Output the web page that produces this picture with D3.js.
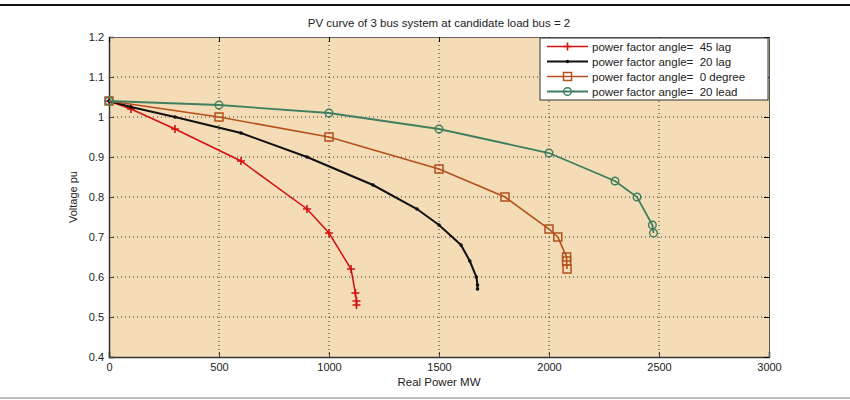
<!DOCTYPE html>
<html>
<head>
<meta charset="utf-8">
<script src="https://cdn.jsdelivr.net/npm/d3@7"></script>
<style>
  body { margin: 0; background: #fff; }
  text { font-family: "Liberation Sans", Arial, sans-serif; fill: #222; }
  .tick text { font-size: 11px; }
</style>
</head>
<body>
<div id="viz"></div>
<script>
const width = 850;
const height = 400;

// series: P (MW) and V (pu)
const lag45P = [0, 100, 300, 600, 900, 1000, 1100, 1120, 1125, 1125];
const lag45V = [1.04, 1.02, 0.97, 0.89, 0.77, 0.71, 0.62, 0.56, 0.54, 0.53];
const lag20P = [0, 100, 300, 600, 900, 1200, 1400, 1500, 1600, 1640, 1670, 1675, 1675];
const lag20V = [1.04, 1.025, 1.0, 0.96, 0.90, 0.83, 0.77, 0.73, 0.68, 0.64, 0.60, 0.58, 0.57];
const deg0P = [0, 500, 1000, 1500, 1800, 2000, 2040, 2080, 2080, 2082];
const deg0V = [1.04, 1.0, 0.95, 0.87, 0.80, 0.72, 0.70, 0.65, 0.64, 0.62];
const lead20P = [0, 500, 1000, 1500, 2000, 2300, 2400, 2470, 2475];
const lead20V = [1.04, 1.03, 1.01, 0.97, 0.91, 0.84, 0.80, 0.73, 0.71];

const seriesNames = ["power factor angle=  45 lag", "power factor angle=  20 lag",
                     "power factor angle=  0 degree", "power factor angle=  20 lead"];
const xTicks = [0, 500, 1000, 1500, 2000, 2500, 3000];
const yTicks = [0.4, 0.5, 0.6, 0.7, 0.8, 0.9, 1, 1.1, 1.2];

const series = [
    {name: seriesNames[0], P: lag45P, V: lag45V, color: "#d41010", w: 1.5, marker: "plus"},
    {name: seriesNames[1], P: lag20P, V: lag20V, color: "#111111", w: 2, marker: "dot"},
    {name: seriesNames[2], P: deg0P, V: deg0V, color: "#b4501c", w: 1.6, marker: "square"},
    {name: seriesNames[3], P: lead20P, V: lead20V, color: "#3f7f5f", w: 1.8, marker: "circle"}
];

const svg = d3.select("#viz")
    .append("svg")
    .attr("width", width)
    .attr("height", height);

// frame lines of the figure
svg.append("rect").attr("x", 0).attr("y", 4).attr("width", width).attr("height", 2).attr("fill", "#111");
svg.append("rect").attr("x", 0).attr("y", 397).attr("width", width).attr("height", 2).attr("fill", "#bbb");

const margin = {top: 37, left: 109, right: 81, bottom: 43};
const innerWidth = width - margin.left - margin.right;
const innerHeight = height - margin.top - margin.bottom;

const xScale = d3.scaleLinear().domain([0, 3000]).range([0, innerWidth]);
const yScale = d3.scaleLinear().domain([0.4, 1.2]).range([innerHeight, 0]);

const g = svg.append("g").attr("transform", `translate(${margin.left}, ${margin.top})`);

g.append("rect")
    .attr("width", innerWidth)
    .attr("height", innerHeight)
    .attr("fill", "#f3dcb6");

// dotted grid
g.append("g").selectAll("line").data(xTicks.slice(1, -1)).join("line")
    .attr("x1", d => xScale(d)).attr("x2", d => xScale(d))
    .attr("y1", 0).attr("y2", innerHeight)
    .attr("stroke", "#333").attr("stroke-width", 1).attr("stroke-dasharray", "1,3");
g.append("g").selectAll("line").data(yTicks.slice(1, -1)).join("line")
    .attr("y1", d => yScale(d)).attr("y2", d => yScale(d))
    .attr("x1", 0).attr("x2", innerWidth)
    .attr("stroke", "#333").attr("stroke-width", 1).attr("stroke-dasharray", "1,3");

// axes, ticks pointing inwards
const xAxis = d3.axisBottom(xScale).tickValues(xTicks).tickSize(-5).tickPadding(6).tickFormat(d3.format("d"));
const yAxis = d3.axisLeft(yScale).tickValues(yTicks).tickSize(-5).tickPadding(5).tickFormat(d => d3.format("")(+d.toFixed(1)));

const xAxisG = g.append("g").attr("transform", `translate(0, ${innerHeight})`).call(xAxis);
const yAxisG = g.append("g").call(yAxis);
[xAxisG, yAxisG].forEach(a => {
    a.select(".domain").attr("stroke", "#333").attr("stroke-width", 1.5);
    a.selectAll(".tick line").attr("stroke", "#444");
    a.selectAll(".tick text").attr("fill", "#333");
});
// top / right ticks + box (no labels)
g.append("g").call(d3.axisTop(xScale).tickValues(xTicks).tickSize(-5))
    .call(a => a.select(".domain").attr("stroke", "#666"))
    .call(a => a.selectAll(".tick text").remove());
g.append("g").attr("transform", `translate(${innerWidth},0)`)
    .call(d3.axisRight(yScale).tickValues(yTicks).tickSize(-5))
    .call(a => a.select(".domain").attr("stroke", "#555"))
    .call(a => a.selectAll(".tick text").remove());

const line = d3.line().x(d => xScale(d[0])).y(d => yScale(d[1]));

function drawMarker(sel, type, color) {
    if (type === "plus") {
        sel.append("path").attr("d", "M-4,0H4M0,-4V4").attr("stroke", color).attr("stroke-width", 1.6).attr("fill", "none");
    } else if (type === "dot") {
        sel.append("circle").attr("r", 1.8).attr("fill", color);
    } else if (type === "square") {
        sel.append("rect").attr("x", -4).attr("y", -4).attr("width", 8).attr("height", 8)
            .attr("fill", "none").attr("stroke", color).attr("stroke-width", 1.5);
    } else {
        sel.append("circle").attr("r", 3.8).attr("fill", "none").attr("stroke", color).attr("stroke-width", 1.4);
    }
}

const plotG = g.append("g");
series.forEach(s => {
    const pts = s.P.map((p, i) => [p, s.V[i]]);
    plotG.append("path").datum(pts)
        .attr("d", line)
        .attr("fill", "none")
        .attr("stroke", s.color)
        .attr("stroke-width", s.w);
    plotG.append("g").selectAll("g").data(pts).join("g")
        .attr("transform", d => `translate(${xScale(d[0])},${yScale(d[1])})`)
        .each(function () { drawMarker(d3.select(this), s.marker, s.color); });
});

// legend
const legend = svg.append("g").attr("transform", "translate(540, 38)");
legend.append("rect").attr("width", 228).attr("height", 62)
    .attr("fill", "#fff").attr("stroke", "#333").attr("stroke-width", 1);
series.forEach((s, i) => {
    const row = legend.append("g").attr("transform", `translate(0, ${8.5 + i * 15})`);
    row.append("line").attr("x1", 7).attr("x2", 48).attr("y1", 0).attr("y2", 0)
        .attr("stroke", s.color).attr("stroke-width", s.w);
    drawMarker(row.append("g").attr("transform", "translate(27.5,0)"), s.marker, s.color);
    row.append("text").attr("x", 52).attr("y", 4.5)
        .style("font-size", "11.5px").style("white-space", "pre").attr("fill", "#222")
        .text(s.name);
});

svg.append("text")
    .attr("x", margin.left + innerWidth / 2).attr("y", 27)
    .attr("text-anchor", "middle")
    .style("font-size", "11.5px")
    .attr("fill", "#333")
    .text("PV curve of 3 bus system at candidate load bus = 2");

svg.append("text")
    .attr("x", margin.left + innerWidth / 2).attr("y", 386)
    .attr("text-anchor", "middle")
    .style("font-size", "11.5px")
    .attr("fill", "#333")
    .text("Real Power MW");

svg.append("text")
    .attr("transform", `translate(77, ${margin.top + innerHeight / 2}) rotate(-90)`)
    .attr("text-anchor", "middle")
    .style("font-size", "11px")
    .attr("fill", "#333")
    .text("Voltage pu");
</script>
</body>
</html>
